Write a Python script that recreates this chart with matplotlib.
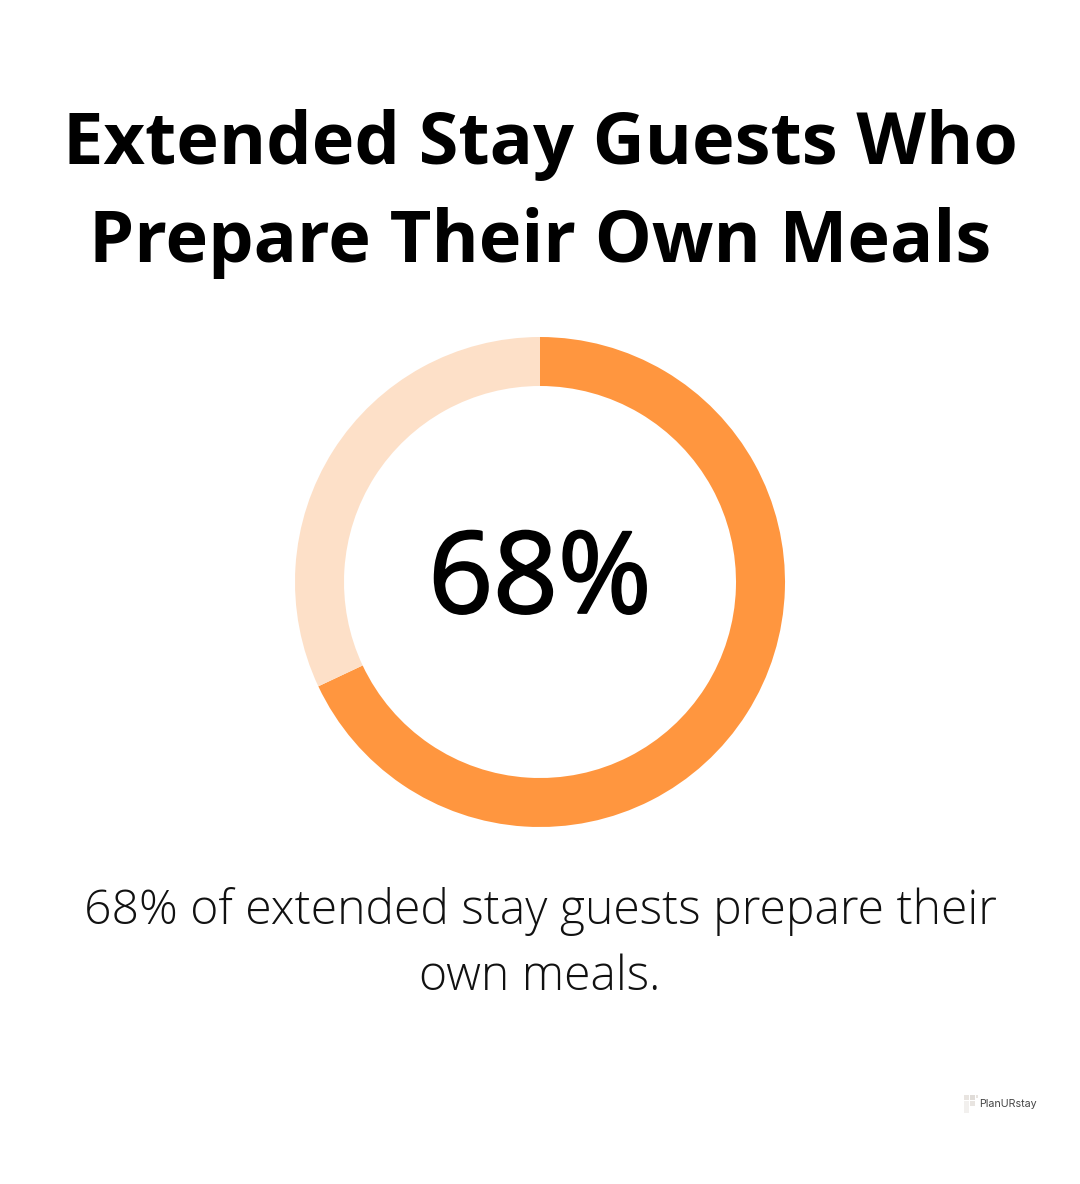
import matplotlib
matplotlib.use('Agg')
import matplotlib.pyplot as plt
import matplotlib.patheffects as pe
from matplotlib.patches import Rectangle

# chart values
share_values = [68, 32]
share_colors = ['#FF963F', '#FDE0C8']
big_label = '68%'
title_lines = ['Extended Stay Guests Who', 'Prepare Their Own Meals']
caption_lines = ['68% of extended stay guests prepare their', 'own meals.']
brand = 'PlanURstay'

W, H = 1080, 1184
fig = plt.figure(figsize=(W / 100, H / 100), dpi=100, facecolor='white')

# pixel overlay for the text
bg = fig.add_axes([0, 0, 1, 1])
bg.set_xlim(0, W)
bg.set_ylim(H, 0)
bg.axis('off')

# title
bg.text(540, 145, title_lines[0], ha='center', va='center', fontsize=51.8, family='Open Sans', weight='bold', color='black')
bg.text(540, 243, title_lines[1], ha='center', va='center', fontsize=51.8, family='Open Sans', weight='bold', color='black')

# donut, centre (540, 582) outer radius 245
ax = fig.add_axes([(540 - 245) / W, 1 - (582 + 245) / H, 490 / W, 490 / H])
ax.pie(share_values, colors=share_colors, startangle=90, counterclock=False, radius=1,
       wedgeprops=dict(width=0.2))
ax.set_xlim(-1, 1)
ax.set_ylim(-1, 1)

bg.set_zorder(3)
# the installed regular is a bit thin, so thicken it with a small stroke
bg.text(540, 583, big_label, ha='center', va='center', fontsize=81.5, family='Open Sans', color='black',
        path_effects=[pe.withStroke(linewidth=1.6, foreground='black')])

# caption
bg.text(540, 912, caption_lines[0], ha='center', va='center', fontsize=34.7, family='Open Sans', weight='light', color='#111111')
bg.text(540, 978, caption_lines[1], ha='center', va='center', fontsize=34.7, family='Open Sans', weight='light', color='#111111')

# logo
for x, y, w, h, c in [(964, 1095, 5, 5, '#E8E4E0'), (970, 1095, 5, 5, '#E0DCD8'), (976, 1095, 2, 3, '#E8E4E0'),
                      (964, 1101, 5, 12, '#F2F0EE'), (970, 1101, 5, 5, '#E8E4E0')]:
    bg.add_patch(Rectangle((x, y), w, h, facecolor=c, edgecolor='none'))
bg.text(979, 1104, brand, ha='left', va='center', fontsize=7.7, family='Inter', color='#444444')

fig.savefig('out.png', dpi=100, facecolor='white')
